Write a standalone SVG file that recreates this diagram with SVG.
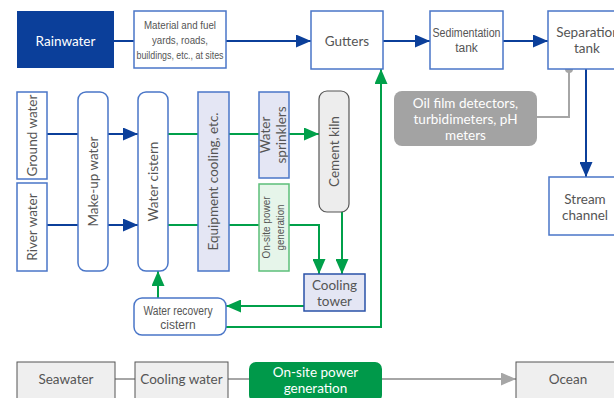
<svg xmlns="http://www.w3.org/2000/svg" width="614" height="398" viewBox="0 0 614 398">
<defs>
<style>
.t{font-family:Lato,"Open Sans","Liberation Sans",sans-serif;font-size:13.5px;fill:#555;text-anchor:middle}
.c{font-family:"Liberation Sans Narrow","Liberation Sans",sans-serif;font-size:11px;fill:#555;text-anchor:middle}
.w{fill:#fff}
.bx{fill:#fff;stroke:#4a76c8;stroke-width:1.5}
.lav{fill:#e4e6f4;stroke:#4a76c8;stroke-width:1.5}
.gbx{fill:#e6f5ea;stroke:#5cbf7a;stroke-width:1.5}
.gry{fill:#efefef;stroke:#555;stroke-width:1}
.lb{fill:none;stroke:#0b3f9a;stroke-width:2}
.lg{fill:none;stroke:#00a04a;stroke-width:2}
.lgr{fill:none;stroke:#a6a6a6;stroke-width:2}
</style>
<marker id="ab" markerUnits="userSpaceOnUse" markerWidth="15" markerHeight="13" refX="15" refY="6.5" orient="auto"><path d="M0,0 L15,6.5 L0,13 z" fill="#0b3f9a"/></marker>
<marker id="ag" markerUnits="userSpaceOnUse" markerWidth="15" markerHeight="13" refX="15" refY="6.5" orient="auto"><path d="M0,0 L15,6.5 L0,13 z" fill="#00a04a"/></marker>
<marker id="agr" markerUnits="userSpaceOnUse" markerWidth="15" markerHeight="13" refX="15" refY="6.5" orient="auto"><path d="M0,0 L15,6.5 L0,13 z" fill="#a6a6a6"/></marker>
</defs>
<rect width="614" height="398" fill="#fff"/>
<g id="connectors">
<path class="lb" d="M114,41H134"/>
<path class="lb" d="M226,41H311" marker-end="url(#ab)"/>
<path class="lb" d="M383,41H430" marker-end="url(#ab)"/>
<path class="lb" d="M503,41H548" marker-end="url(#ab)"/>
<path class="lb" d="M586,69V177" marker-end="url(#ab)"/>
<path class="lb" d="M47,134H78"/>
<path class="lb" d="M108,134H138" marker-end="url(#ab)"/>
<path class="lb" d="M47,225H78"/>
<path class="lb" d="M108,225H138" marker-end="url(#ab)"/>
<path class="lg" d="M168,134H198M229,134H259"/>
<path class="lg" d="M289,134H319" marker-end="url(#ag)"/>
<path class="lg" d="M168,225H198M229,225H259"/>
<path class="lg" d="M289,225H319V274" marker-end="url(#ag)"/>
<path class="lg" d="M342,212V274" marker-end="url(#ag)"/>
<path class="lg" d="M304,306H226" marker-end="url(#ag)"/>
<path class="lg" d="M226,327H381V69" marker-end="url(#ag)"/>
<path class="lg" d="M158,298V271" marker-end="url(#ag)"/>
<path class="lgr" d="M569,69V117H537"/>
<circle cx="569" cy="69" r="4" fill="#a6a6a6"/>
<path class="lgr" d="M115,379H135M228,379H249"/>
<path class="lgr" d="M382,379H516" marker-end="url(#agr)"/>
</g>
<g id="rainwater"><rect x="17" y="11" width="97" height="57" fill="#0b3f9a"/><text class="t w" x="65.5" y="46">Rainwater</text></g>
<g id="material"><rect class="bx" x="134" y="11" width="92" height="57"/>
<text class="c" x="180" y="29" textLength="72" lengthAdjust="spacingAndGlyphs">Material and fuel</text>
<text class="c" x="180" y="44" textLength="56" lengthAdjust="spacingAndGlyphs">yards, roads,</text>
<text class="c" x="180" y="59" textLength="87" lengthAdjust="spacingAndGlyphs">buildings, etc., at sites</text></g>
<g id="gutters"><rect class="bx" x="311" y="11" width="72" height="58"/><text class="t" x="347" y="46">Gutters</text></g>
<g id="sedimentation"><rect class="bx" x="430" y="11" width="73" height="58"/>
<text class="c" x="466.5" y="37" textLength="68" lengthAdjust="spacingAndGlyphs" style="font-size:12px">Sedimentation</text>
<text class="c" x="466.5" y="52" style="font-size:12px">tank</text></g>
<g id="separation"><rect class="bx" x="548" y="11" width="80" height="58"/>
<text class="t" x="588" y="37">Separation</text><text class="t" x="587" y="53">tank</text></g>
<g id="sensors"><rect x="394" y="91" width="143" height="55" rx="8" fill="#a3a3a3"/>
<text class="t w" x="465.5" y="108">Oil film detectors,</text>
<text class="t w" x="465.5" y="124">turbidimeters, pH</text>
<text class="t w" x="465.5" y="140">meters</text></g>
<g id="stream"><rect class="bx" x="549" y="177" width="80" height="58"/>
<text class="t" x="585" y="204">Stream</text><text class="t" x="585" y="220">channel</text></g>
<g id="groundwater"><rect class="bx" x="17" y="92" width="30" height="87"/><text class="t" transform="translate(36.5,135.5) rotate(-90)">Ground water</text></g>
<g id="riverwater"><rect class="bx" x="17" y="183" width="30" height="88"/><text class="t" transform="translate(36.5,227) rotate(-90)">River water</text></g>
<g id="makeup"><rect class="bx" x="78" y="92" width="30" height="179" rx="8"/><text class="t" transform="translate(97.5,181.5) rotate(-90)">Make-up water</text></g>
<g id="cistern"><rect class="bx" x="138" y="92" width="30" height="179" rx="8"/><text class="t" transform="translate(157.5,181.5) rotate(-90)">Water cistern</text></g>
<g id="equipment"><rect class="lav" x="198" y="92" width="31" height="179"/><text class="t" transform="translate(218,181.5) rotate(-90)">Equipment cooling, etc.</text></g>
<g id="sprinklers"><rect class="lav" x="259" y="92" width="30" height="86"/>
<text class="t" transform="translate(270,135) rotate(-90)">Water</text>
<text class="t" transform="translate(286,135) rotate(-90)">sprinklers</text></g>
<g id="onsite"><rect class="gbx" x="259" y="184" width="30" height="87"/>
<text class="c" transform="translate(270,227.5) rotate(-90)" textLength="62" lengthAdjust="spacingAndGlyphs">On-site power</text>
<text class="c" transform="translate(284,227.5) rotate(-90)" textLength="46" lengthAdjust="spacingAndGlyphs">generation</text></g>
<g id="kiln"><rect x="319" y="91" width="30" height="121" rx="8" fill="#ededed" stroke="#555" stroke-width="1.2"/><text class="t" transform="translate(338.5,151.5) rotate(-90)">Cement kiln</text></g>
<g id="coolingtower"><rect x="304" y="274" width="61" height="37" fill="#e4e6f4" stroke="#2a52a8" stroke-width="1.5"/>
<text class="t" x="334.5" y="290">Cooling</text><text class="t" x="334.5" y="306">tower</text></g>
<g id="recovery"><rect class="bx" x="134" y="298" width="92" height="37" rx="8"/>
<text class="c" x="178" y="315" textLength="69" lengthAdjust="spacingAndGlyphs" style="font-size:12px">Water recovery</text>
<text class="c" x="178" y="329" style="font-size:12px">cistern</text></g>
<g id="seawater"><rect class="gry" x="17" y="362" width="98" height="40"/><text class="t" x="66" y="384">Seawater</text></g>
<g id="coolingwater"><rect class="gry" x="135" y="362" width="93" height="40"/><text class="t" x="181.5" y="384">Cooling water</text></g>
<g id="powergen"><rect x="249" y="362" width="133" height="40" rx="7" fill="#00994a"/>
<text class="t w" x="315.5" y="377">On-site power</text><text class="t w" x="315.5" y="393">generation</text></g>
<g id="ocean"><rect class="gry" x="516" y="362" width="104" height="40"/><text class="t" x="568" y="384">Ocean</text></g>
</svg>
